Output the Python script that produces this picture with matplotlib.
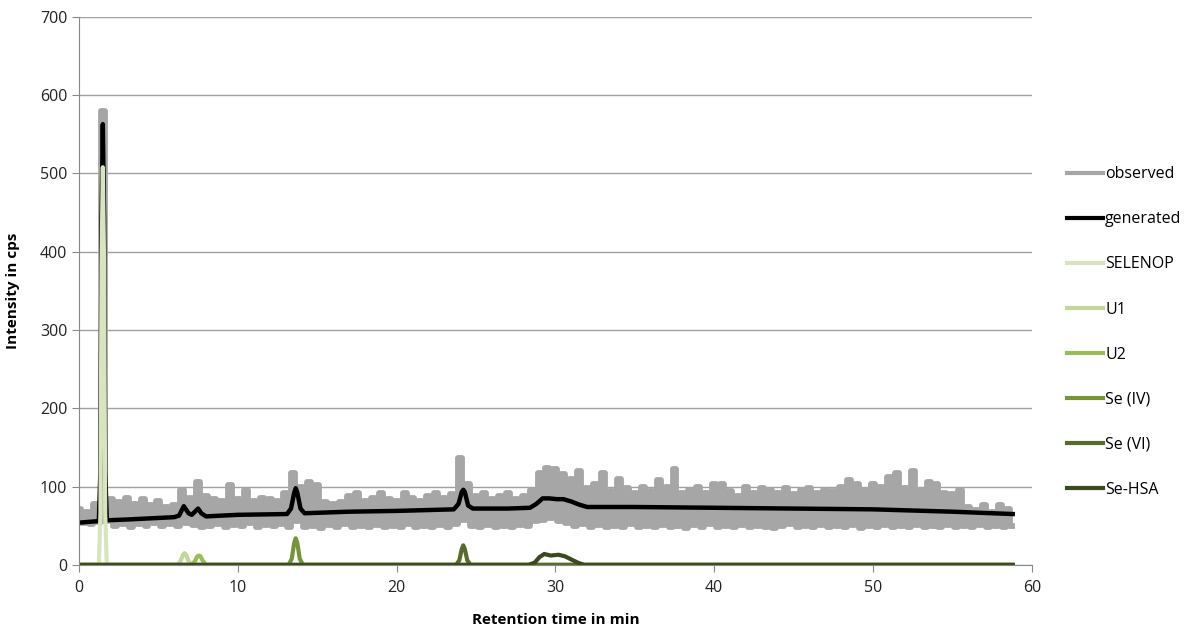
import numpy as np
import matplotlib
matplotlib.use("Agg")
import matplotlib.pyplot as plt

plt.rcParams['font.family'] = ['Open Sans', 'DejaVu Sans']

# observed signal: alternating high / low readings (min)
obs_high = [72, 68, 78, 580, 84, 80, 86, 78, 84, 76, 82, 74, 76, 96, 86, 106, 88, 84, 82, 102,
            84, 96, 82, 86, 84, 82, 92, 118, 100, 106, 102, 80, 78, 80, 88, 92, 82, 86, 92, 84,
            82, 92, 86, 82, 88, 92, 86, 90, 136, 104, 88, 92, 84, 88, 92, 84, 88, 96, 118, 124,
            122, 116, 110, 120, 98, 104, 118, 94, 110, 98, 92, 100, 94, 108, 100, 122, 92, 96, 100, 92,
            104, 104, 94, 88, 100, 92, 98, 96, 92, 98, 90, 96, 98, 92, 96, 94, 100, 108, 104, 96,
            104, 100, 112, 118, 98, 120, 96, 106, 104, 92, 90, 96, 74, 70, 76, 68, 76, 72]
obs_low = [54, 52, 55, 56, 50, 52, 49, 52, 50, 53, 50, 52, 50, 54, 51, 49, 50, 52, 48, 51,
           50, 53, 49, 51, 50, 52, 49, 56, 48, 50, 47, 51, 49, 52, 48, 50, 49, 51, 48, 50,
           49, 52, 48, 50, 49, 51, 48, 52, 58, 50, 48, 51, 49, 50, 48, 51, 50, 56, 58, 60,
           56, 54, 50, 52, 49, 51, 48, 50, 49, 52, 48, 50, 49, 51, 48, 50, 47, 51, 49, 52,
           48, 50, 49, 51, 48, 50, 49, 47, 50, 52, 48, 50, 49, 51, 48, 50, 49, 51, 47, 50,
           49, 51, 48, 50, 49, 51, 48, 50, 49, 51, 48, 50, 49, 51, 48, 50, 49, 50]

gen_t = [0, 1.25, 1.35, 1.42, 1.5, 1.58, 1.65, 1.75, 3, 6.0, 6.3, 6.6, 6.9, 7.1, 7.3, 7.5, 7.7, 8.0,
         10, 13.1, 13.35, 13.55, 13.65, 13.75, 13.95, 14.2, 17, 20, 23.6, 23.9, 24.1, 24.2, 24.3,
         24.5, 24.8, 27, 28.4, 28.8, 29.2, 29.6, 30.1, 30.5, 31.0, 31.5, 32.0, 35, 40, 45, 50, 55, 58.8]
gen_v = [54, 56, 120, 440, 563, 440, 120, 57, 58, 61, 63, 75, 66, 64, 68, 72, 66, 62,
         64, 65, 72, 92, 98, 92, 72, 66, 68, 69, 71, 78, 93, 96, 93,
         76, 72, 72, 73, 78, 85, 85, 84, 84, 81, 77, 74, 74, 73, 72, 71, 68, 65]

selenop_t = [0, 1.25, 1.35, 1.42, 1.5, 1.58, 1.65, 1.75, 58.8]
selenop_v = [0, 0, 65, 385, 508, 385, 65, 0, 0]
u1_t = [0, 6.2, 6.4, 6.55, 6.65, 6.75, 6.9, 7.1, 58.8]
u1_v = [0, 0, 5, 13, 15, 13, 5, 0, 0]
u2_t = [0, 7.1, 7.3, 7.45, 7.55, 7.65, 7.8, 8.0, 58.8]
u2_v = [0, 0, 5, 11, 12, 11, 5, 0, 0]
se4_t = [0, 13.2, 13.4, 13.55, 13.65, 13.75, 13.9, 14.1, 58.8]
se4_v = [0, 0, 8, 28, 34, 28, 8, 0, 0]
se6_t = [0, 23.75, 23.95, 24.1, 24.2, 24.3, 24.45, 24.65, 58.8]
se6_v = [0, 0, 6, 20, 25, 20, 6, 0, 0]
hsa_t = [0, 28.3, 28.7, 29.0, 29.3, 29.7, 30.2, 30.6, 31.0, 31.4, 31.8, 58.8]
hsa_v = [0, 0, 3, 10, 14, 12, 13, 11, 7, 3, 0, 0]

# interleave high/low readings on a 0.25 min grid
n = min(len(obs_high), len(obs_low))
obs_t = np.arange(2 * n) * 0.25
obs_v = np.empty(2 * n)
obs_v[0::2] = obs_high[:n]
obs_v[1::2] = obs_low[:n]

fig = plt.figure(figsize=(11.88, 6.27), dpi=100)
ax = fig.add_axes([0.0665, 0.099, 0.802, 0.874])

ax.plot(obs_t, obs_v, color='#A6A6A6', lw=4.2, drawstyle='steps-mid', label='observed')
ax.plot(gen_t, gen_v, color='black', lw=3.2, label='generated')
components = [
    (selenop_t, selenop_v, '#D7E4BD', 'SELENOP'),
    (u1_t, u1_v, '#C3D69B', 'U1'),
    (u2_t, u2_v, '#9BBB59', 'U2'),
    (se4_t, se4_v, '#77933C', 'Se (IV)'),
    (se6_t, se6_v, '#566B2C', 'Se (VI)'),
    (hsa_t, hsa_v, '#3A4A1C', 'Se-HSA'),
]
for t, v, c, name in components:
    ax.plot(t, v, color=c, lw=3, label=name)

ax.set_xlim(0, 60)
ax.set_ylim(0, 700)
ax.set_xticks(range(0, 61, 10))
ax.set_yticks(range(0, 701, 100))
ax.grid(axis='y', color='#A0A0A0', lw=1)
ax.set_axisbelow(True)
for s in ['top', 'right']:
    ax.spines[s].set_visible(False)
ax.spines['left'].set_color('#888888')
ax.spines['bottom'].set_color('#888888')
ax.tick_params(axis='both', colors='#888888', labelcolor='#222222', labelsize=11.5, length=5)
ax.tick_params(axis='x', pad=6)

ax.set_xlabel('Retention time in min', fontsize=11, fontweight='bold', labelpad=12)
ax.set_ylabel('Intensity in cps', fontsize=11, fontweight='bold', labelpad=14)

leg = ax.legend(loc='upper left', bbox_to_anchor=(1.03, 0.739), frameon=False, fontsize=11.5,
                handlelength=2.3, handletextpad=0.1, labelspacing=1.82, borderaxespad=0)
for h in leg.get_lines():
    h.set_linewidth(3)

fig.savefig('out.png', dpi=100)
